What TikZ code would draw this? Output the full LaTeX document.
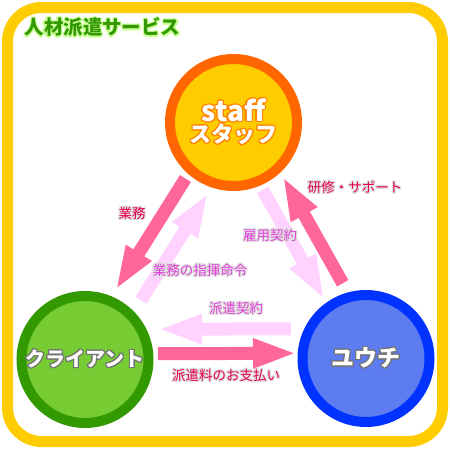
\documentclass[tikz,border=0pt]{standalone}
\usepackage{fontspec}
\usepackage{xcolor}
\usepackage{contour}
\usetikzlibrary{arrows.meta}
\usetikzlibrary{calc}
\newfontfamily\jp{Noto Sans CJK JP}
\contourlength{1.2pt}
\contournumber{16}
\definecolor{framey}{HTML}{FFCC00}
\definecolor{hotpink}{HTML}{FF6699}
\definecolor{palepink}{HTML}{FFD2FF}
\definecolor{staffring}{HTML}{FF6600}
\definecolor{stafffill}{HTML}{FFCC00}
\definecolor{clientring}{HTML}{339900}
\definecolor{clientfill}{HTML}{77CC33}
\definecolor{unionring}{HTML}{0033FF}
\definecolor{unionfill}{HTML}{5C7CF0}
\definecolor{redtext}{HTML}{E6004C}
\definecolor{magtext}{HTML}{E040D8}
\definecolor{titlegreen}{HTML}{339900}
\definecolor{titleglow}{HTML}{CCFF99}
\tikzset{
  party/.style={circle,line width=10pt,minimum size=127pt,inner sep=0pt,text=white,align=center,font=\jp\bfseries},
  heavy/.style={hotpink,line width=13pt,-{Triangle[width=27pt,length=44pt]}},
  light/.style={palepink,line width=13pt,-{Triangle[width=27pt,length=44pt]}},
  lbl/.style={font=\jp\fontsize{13.5}{16}\selectfont,inner sep=0pt}
}

\begin{document}
\begin{tikzpicture}[x=1pt,y=-1pt]
\useasboundingbox (0,0) rectangle (450,450);
\fill[white] (0,0) rectangle (450,450);
\draw[framey,line width=11pt,rounded corners=34pt] (7.5,7.5) rectangle (442.5,441.5);
\node[font=\jp\bfseries\fontsize{19.5}{22}\selectfont,text=titlegreen,inner sep=0pt] (title) at (102.5,28) {\contour{titleglow}{人材派遣サービス}};
% the three parties
\node[party,draw=staffring,fill=stafffill] (staff) at (233.5,122.5)
  {\fontsize{28}{23}\selectfont\contour{staffring!80!yellow}{staff}\\\fontsize{22}{23}\selectfont\contour{staffring!80!yellow}{スタッフ}};
\node[party,draw=clientring,fill=clientfill,font=\jp\bfseries\fontsize{20}{24}\selectfont] (client) at (85,359.5) {\contour{black!55}{クライアント}};
\node[party,draw=unionring,fill=unionfill,font=\jp\bfseries\fontsize{23}{26}\selectfont] (union) at (366,358.5) {\contour{black!55}{ユウチ}};
% staff - client
\draw[heavy] ($(staff)!73pt!(client)!11pt!-90:(client)$) -- ($(client)!75pt!(staff)!11pt!90:(staff)$);
\draw[light] ($(client)!80pt!(staff)!16pt!-90:(staff)$) -- ($(staff)!73pt!(client)!16pt!90:(client)$);
% staff - union
\draw[light] ($(staff)!73pt!(union)!7.5pt!-90:(union)$) -- ($(union)!72pt!(staff)!7.5pt!90:(staff)$);
\draw[heavy] ($(union)!77pt!(staff)!16.5pt!-90:(staff)$) -- ($(staff)!71pt!(union)!16.5pt!90:(union)$);
% client - union
\draw[light] ($(union)!75pt!(client)!30pt!-90:(client)$) -- ($(client)!73pt!(union)!30pt!90:(union)$);
\draw[heavy] ($(client)!73pt!(union)!5.5pt!90:(union)$) -- ($(union)!69pt!(client)!5.5pt!-90:(client)$);
% labels
\node[lbl,text=redtext] (work) at (132,214) {\contour{black!12}{業務}};
\node[lbl,text=magtext] (command) at (200,271) {\contour{black!12}{業務の指揮命令}};
\node[lbl,text=magtext] (hire) at (270,236) {\contour{black!12}{雇用契約}};
\node[lbl,text=redtext] (training) at (355,188) {\contour{black!12}{研修・サポート}};
\node[lbl,text=magtext] (dispatch) at (236,309) {\contour{black!12}{派遣契約}};
\node[lbl,text=redtext] (payment) at (226,376) {\contour{black!12}{派遣料のお支払い}};
\end{tikzpicture}
\end{document}
